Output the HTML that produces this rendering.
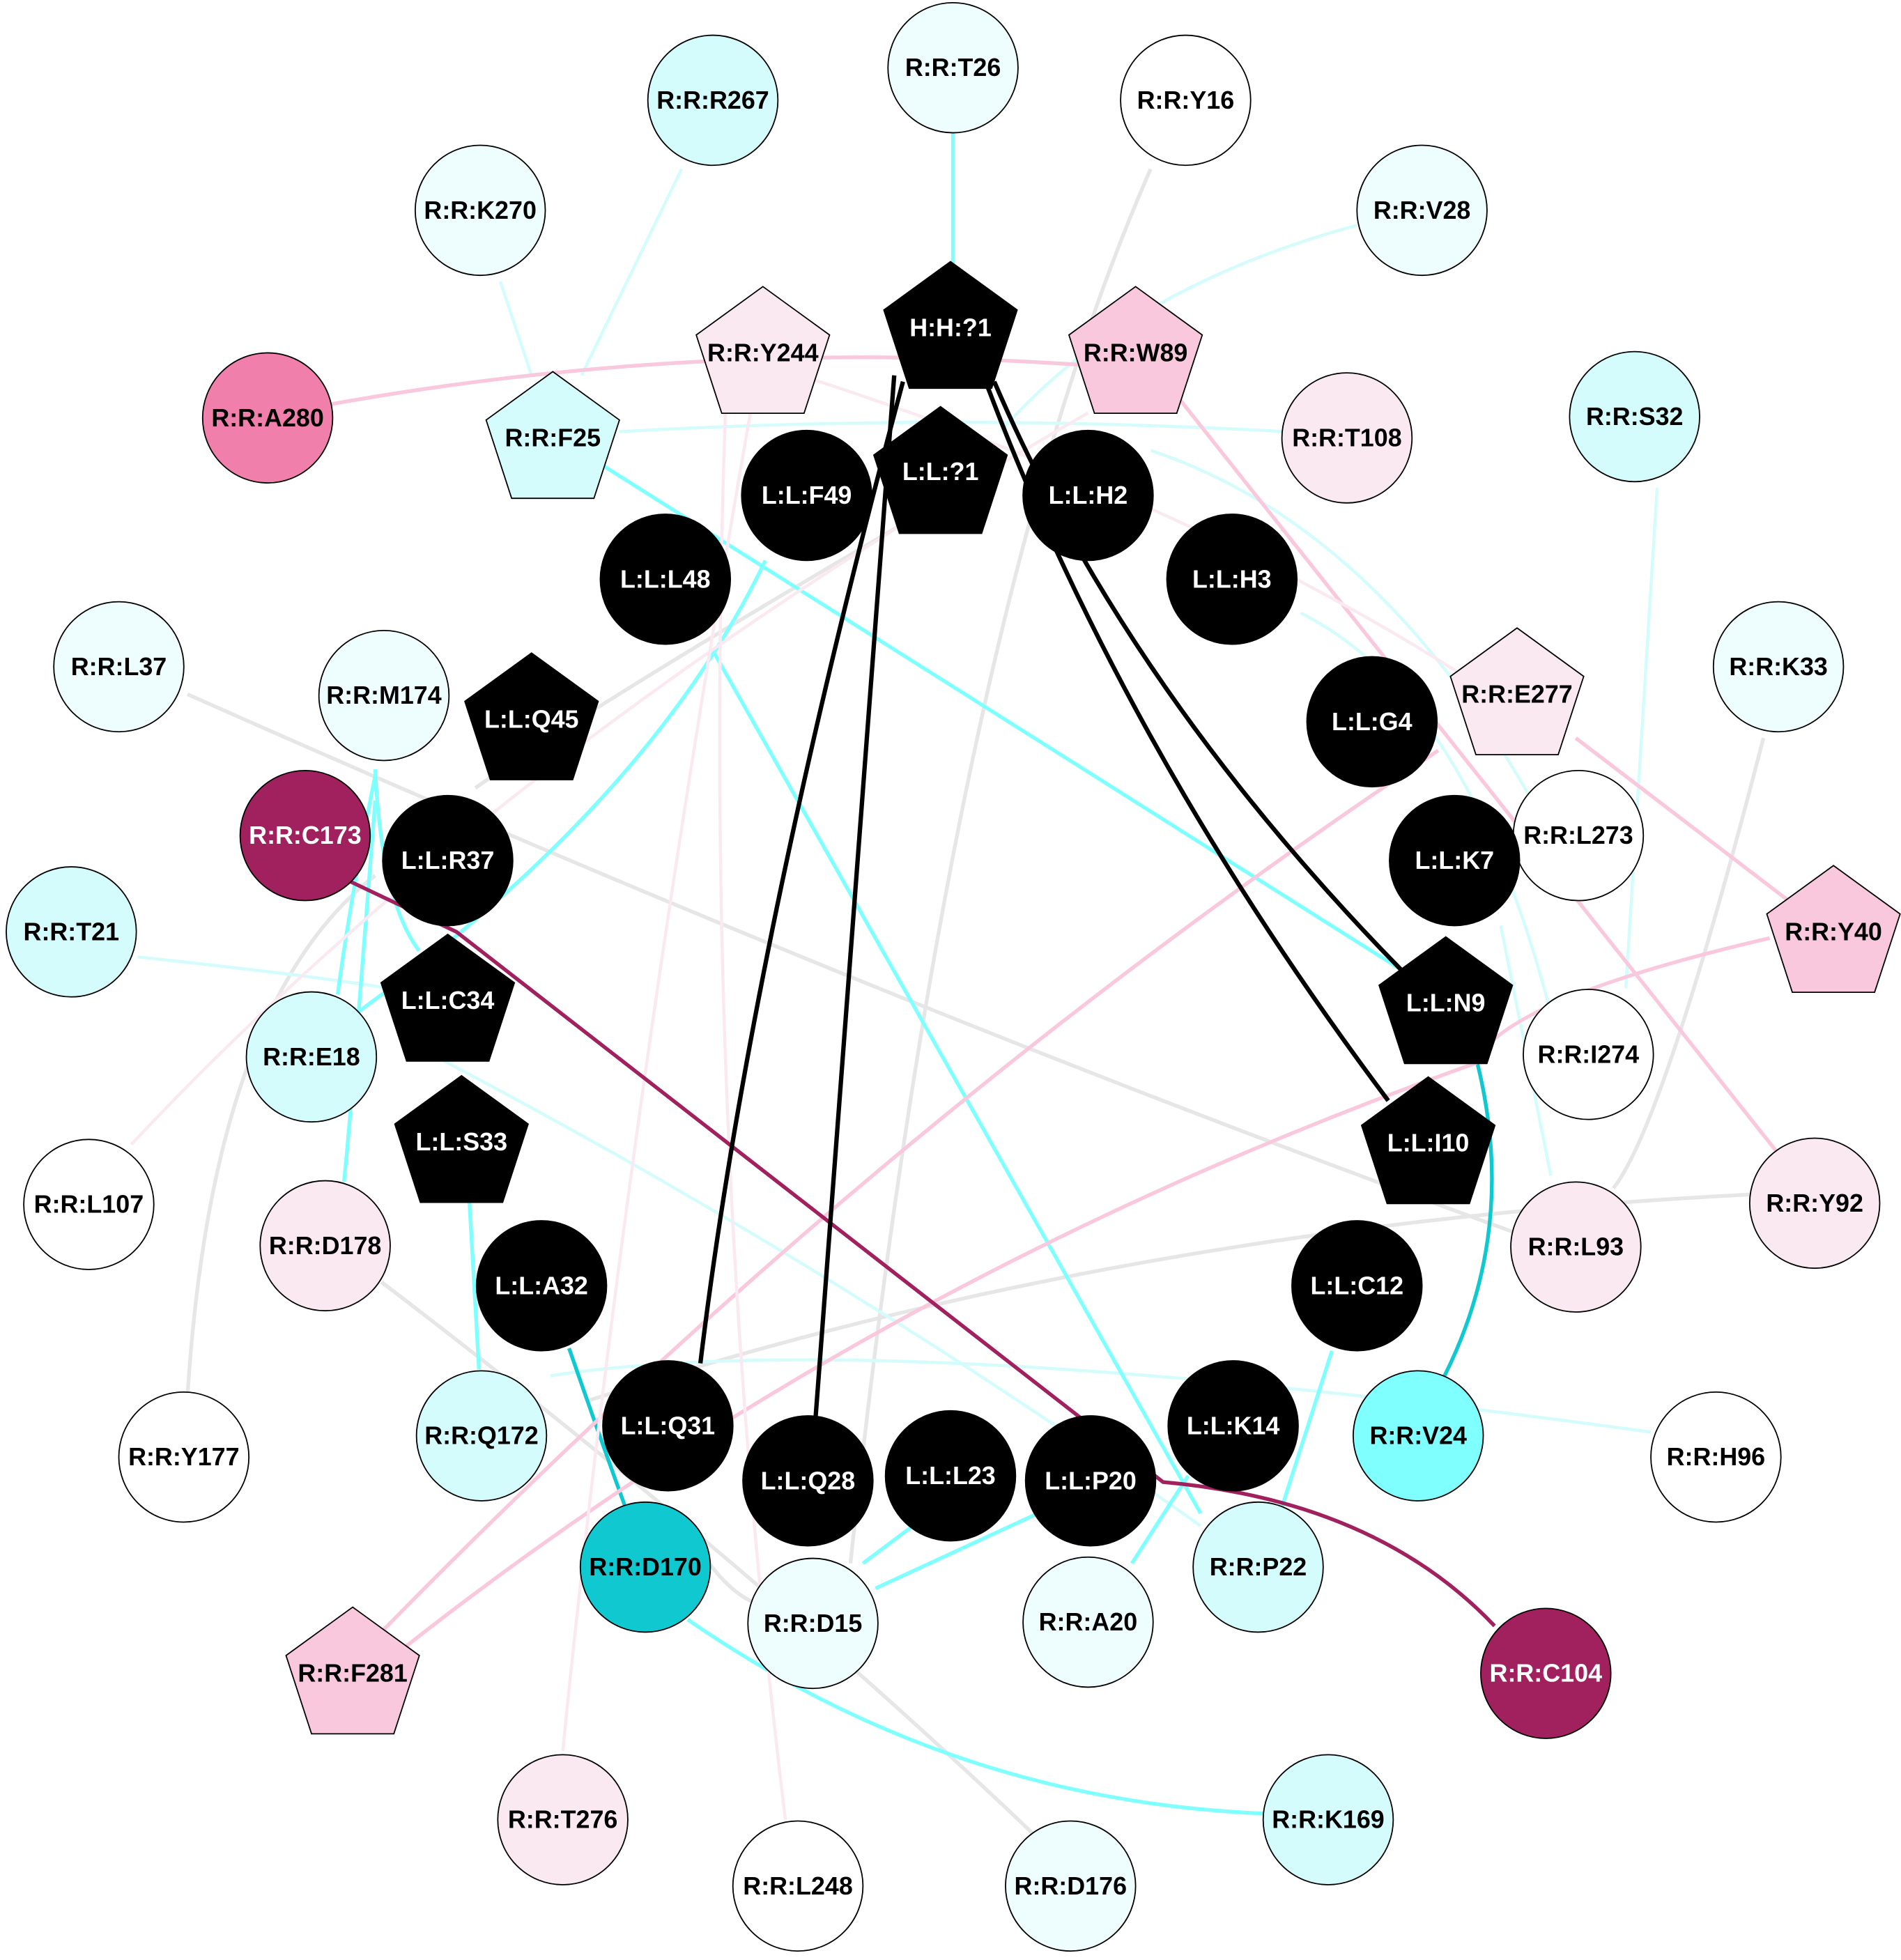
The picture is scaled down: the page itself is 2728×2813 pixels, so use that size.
<!DOCTYPE html>
<html><head><meta charset="utf-8"><style>
html,body{margin:0;padding:0;background:#fff}
svg{display:block}
text{font-family:"Liberation Sans",sans-serif;font-weight:bold;font-size:20px;text-anchor:middle;dominant-baseline:central}
.w{fill:#fff}
</style></head><body>
<svg width="2728" height="2813" viewBox="0 0 1520 1567" xmlns="http://www.w3.org/2000/svg">
<defs>
<polygon id="pg" points="0,-56 53.3,-17.3 32.9,45.3 -32.9,45.3 -53.3,-17.3"/>
</defs>
<rect width="1520" height="1567" fill="#fff"/>
<g fill="none" stroke-width="3">
<g stroke="#e6e6e6">
<path d="M920,135 Q760,500 680,1250"/>
<path d="M150,555 Q700,800 1210,985"/>
<path d="M1400,955 Q900,980 470,1120"/>
<path d="M1410,590 Q1330,900 1290,950"/>
<path d="M305,1025 Q600,1250 830,1470"/>
<path d="M150,1115 Q170,800 300,700"/>
<path d="M720,420 Q480,560 380,630"/>
<path d="M560,1240 Q600,1300 640,1280"/>
</g>
<g stroke="#d4fcfc" stroke-width="2.5">
<path d="M545,135 L465,300"/>
<path d="M400,225 L425,300"/>
<path d="M1085,180 Q900,230 800,345"/>
<path d="M495,345 Q760,330 1028,345"/>
<path d="M920,360 Q1100,420 1225,640"/>
<path d="M1040,490 Q1180,560 1245,830"/>
<path d="M1325,390 L1300,790"/>
<path d="M110,765 Q250,780 310,790"/>
<path d="M320,830 Q650,1000 960,1220"/>
<path d="M440,1100 Q700,1060 1320,1145"/>
<path d="M1200,740 L1240,940"/>
</g>
<g stroke="#80ffff">
<path d="M762,106 L762,215"/>
<path d="M482,372 L1120,775"/>
<path d="M570,520 L960,1210"/>
<path d="M612,448 Q520,640 285,810"/>
<path d="M300,615 Q305,720 335,760"/>
<path d="M300,620 Q280,720 270,795"/>
<path d="M730,1220 L690,1250"/>
<path d="M830,1210 L700,1270"/>
<path d="M950,1180 L905,1250"/>
<path d="M1065,1080 L1025,1205"/>
<path d="M550,1295 Q760,1440 1010,1450"/>
<path d="M375,955 L383,1095"/>
<path d="M300,640 Q280,900 275,945"/>
</g>
<g stroke="#10c8d0">
<path d="M455,1078 Q480,1150 500,1205"/>
<path d="M1180,845 Q1215,980 1155,1100"/>
</g>
<g stroke="#f9c8dc">
<path d="M265,323 Q560,270 870,292"/>
<path d="M940,315 L1420,920"/>
<path d="M1260,590 L1430,720"/>
<path d="M1415,750 Q1200,800 1180,850 Q700,1020 320,1320"/>
<path d="M1150,600 Q700,900 300,1310"/>
</g>
<g stroke="#fbe9f1" stroke-width="2.5">
<path d="M600,330 Q500,900 450,1400"/>
<path d="M640,300 Q950,400 1170,540"/>
<path d="M580,330 Q560,900 628,1455"/>
<path d="M105,915 Q400,600 870,330"/>
</g>
<path d="M270,700 L365,745 L930,1185 Q1100,1200 1195,1300" stroke="#a0215e"/>
<g stroke="#000" stroke-width="3.5">
<path d="M722,305 Q600,760 560,1090"/>
<path d="M715,300 L652,1135"/>
<path d="M795,305 Q900,550 1120,775"/>
<path d="M790,310 Q900,600 1110,880"/>
</g>
</g>
<g stroke="#000" stroke-width="1">
<circle cx="762" cy="54" r="52" fill="#eefefe"/>
<circle cx="948" cy="80" r="52" fill="#fff"/>
<circle cx="570" cy="80" r="52" fill="#d4fcfc"/>
<circle cx="384" cy="168" r="52" fill="#eefefe"/>
<circle cx="1137" cy="168" r="52" fill="#eefefe"/>
<use href="#pg" x="760" y="265" fill="#000"/>
<use href="#pg" x="610" y="285" fill="#fbe9f1"/>
<use href="#pg" x="908" y="285" fill="#f9c8dc"/>
<circle cx="214" cy="334" r="52" fill="#f07fab"/>
<use href="#pg" x="442" y="353" fill="#d4fcfc"/>
<circle cx="1077" cy="350" r="52" fill="#fbe9f1"/>
<circle cx="1307" cy="333" r="52" fill="#d4fcfc"/>
<circle cx="645" cy="396" r="52" fill="#000"/>
<use href="#pg" x="752" y="381" fill="#000"/>
<circle cx="870" cy="396" r="52" fill="#000"/>
<circle cx="532" cy="463" r="52" fill="#000"/>
<circle cx="985" cy="463" r="52" fill="#000"/>
<circle cx="95" cy="533" r="52" fill="#eefefe"/>
<circle cx="307" cy="556" r="52" fill="#eefefe"/>
<use href="#pg" x="425" y="578" fill="#000"/>
<use href="#pg" x="1213" y="558" fill="#fbe9f1"/>
<circle cx="1422" cy="533" r="52" fill="#eefefe"/>
<circle cx="1097" cy="577" r="52" fill="#000"/>
<circle cx="244" cy="668" r="52" fill="#a0215e"/>
<circle cx="358" cy="688" r="52" fill="#000"/>
<circle cx="1262" cy="668" r="52" fill="#fff"/>
<circle cx="1163" cy="688" r="52" fill="#000"/>
<use href="#pg" x="1466" y="748" fill="#f9c8dc"/>
<circle cx="57" cy="745" r="52" fill="#d4fcfc"/>
<use href="#pg" x="358" y="803" fill="#000"/>
<circle cx="249" cy="845" r="52" fill="#d4fcfc"/>
<use href="#pg" x="1156" y="805" fill="#000"/>
<circle cx="1270" cy="843" r="52" fill="#fff"/>
<use href="#pg" x="369" y="916" fill="#000"/>
<use href="#pg" x="1142" y="917" fill="#000"/>
<circle cx="71" cy="963" r="52" fill="#fff"/>
<circle cx="260" cy="996" r="52" fill="#fbe9f1"/>
<circle cx="1451" cy="962" r="52" fill="#fbe9f1"/>
<circle cx="1260" cy="997" r="52" fill="#fbe9f1"/>
<circle cx="433" cy="1028" r="52" fill="#000"/>
<circle cx="1085" cy="1028" r="52" fill="#000"/>
<circle cx="147" cy="1165" r="52" fill="#fff"/>
<circle cx="385" cy="1148" r="52" fill="#d4fcfc"/>
<circle cx="534" cy="1140" r="52" fill="#000"/>
<circle cx="986" cy="1140" r="52" fill="#000"/>
<circle cx="1134" cy="1148" r="52" fill="#80ffff"/>
<circle cx="1372" cy="1165" r="52" fill="#fff"/>
<circle cx="646" cy="1184" r="52" fill="#000"/>
<circle cx="760" cy="1180" r="52" fill="#000"/>
<circle cx="872" cy="1184" r="52" fill="#000"/>
<circle cx="516" cy="1253" r="52" fill="#10c8d0"/>
<circle cx="650" cy="1298" r="52" fill="#eefefe"/>
<circle cx="870" cy="1297" r="52" fill="#eefefe"/>
<circle cx="1006" cy="1253" r="52" fill="#d4fcfc"/>
<use href="#pg" x="282" y="1341" fill="#f9c8dc"/>
<circle cx="1236" cy="1338" r="52" fill="#a0215e"/>
<circle cx="450" cy="1455" r="52" fill="#fbe9f1"/>
<circle cx="1062" cy="1455" r="52" fill="#d4fcfc"/>
<circle cx="638" cy="1508" r="52" fill="#fff"/>
<circle cx="856" cy="1508" r="52" fill="#eefefe"/>
</g>
<g>
<text x="762" y="54">R:R:T26</text>
<text x="948" y="80">R:R:Y16</text>
<text x="570" y="80">R:R:R267</text>
<text x="384" y="168">R:R:K270</text>
<text x="1137" y="168">R:R:V28</text>
<text class="w" x="760" y="262">H:H:?1</text>
<text x="610" y="282">R:R:Y244</text>
<text x="908" y="282">R:R:W89</text>
<text x="214" y="334">R:R:A280</text>
<text x="442" y="350">R:R:F25</text>
<text x="1077" y="350">R:R:T108</text>
<text x="1307" y="333">R:R:S32</text>
<text class="w" x="645" y="396">L:L:F49</text>
<text class="w" x="752" y="377">L:L:?1</text>
<text class="w" x="870" y="396">L:L:H2</text>
<text class="w" x="532" y="463">L:L:L48</text>
<text class="w" x="985" y="463">L:L:H3</text>
<text x="95" y="533">R:R:L37</text>
<text x="307" y="556">R:R:M174</text>
<text class="w" x="425" y="575">L:L:Q45</text>
<text x="1213" y="555">R:R:E277</text>
<text x="1422" y="533">R:R:K33</text>
<text class="w" x="1097" y="577">L:L:G4</text>
<text class="w" x="244" y="668">R:R:C173</text>
<text class="w" x="358" y="688">L:L:R37</text>
<text x="1262" y="668">R:R:L273</text>
<text class="w" x="1163" y="688">L:L:K7</text>
<text x="1466" y="745">R:R:Y40</text>
<text x="57" y="745">R:R:T21</text>
<text class="w" x="358" y="800">L:L:C34</text>
<text x="249" y="845">R:R:E18</text>
<text class="w" x="1156" y="802">L:L:N9</text>
<text x="1270" y="843">R:R:I274</text>
<text class="w" x="369" y="913">L:L:S33</text>
<text class="w" x="1142" y="914">L:L:I10</text>
<text x="71" y="963">R:R:L107</text>
<text x="260" y="996">R:R:D178</text>
<text x="1451" y="962">R:R:Y92</text>
<text x="1260" y="997">R:R:L93</text>
<text class="w" x="433" y="1028">L:L:A32</text>
<text class="w" x="1085" y="1028">L:L:C12</text>
<text x="147" y="1165">R:R:Y177</text>
<text x="385" y="1148">R:R:Q172</text>
<text class="w" x="534" y="1140">L:L:Q31</text>
<text class="w" x="986" y="1140">L:L:K14</text>
<text x="1134" y="1148">R:R:V24</text>
<text x="1372" y="1165">R:R:H96</text>
<text class="w" x="646" y="1184">L:L:Q28</text>
<text class="w" x="760" y="1180">L:L:L23</text>
<text class="w" x="872" y="1184">L:L:P20</text>
<text x="516" y="1253">R:R:D170</text>
<text x="650" y="1298">R:R:D15</text>
<text x="870" y="1297">R:R:A20</text>
<text x="1006" y="1253">R:R:P22</text>
<text x="282" y="1338">R:R:F281</text>
<text class="w" x="1236" y="1338">R:R:C104</text>
<text x="450" y="1455">R:R:T276</text>
<text x="1062" y="1455">R:R:K169</text>
<text x="638" y="1508">R:R:L248</text>
<text x="856" y="1508">R:R:D176</text>
</g>
</svg>
</body></html>
